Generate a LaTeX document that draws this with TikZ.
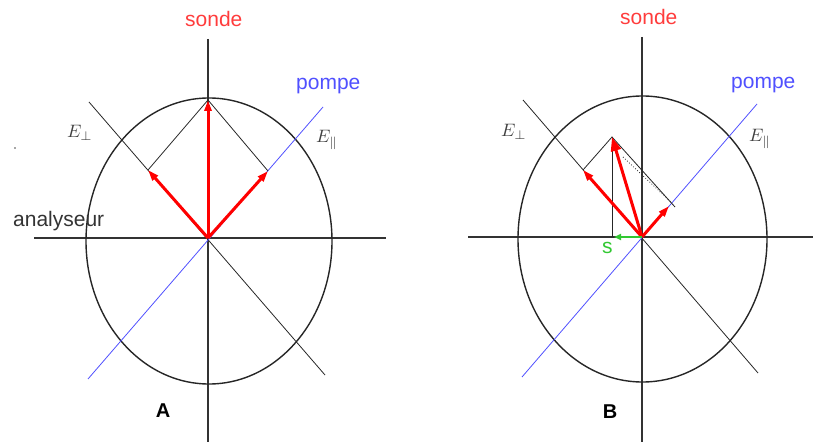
\documentclass[tikz,border=0pt]{standalone}
\usepackage{graphicx}
\usepackage{fontspec}
\setmainfont{Liberation Sans}
\usetikzlibrary{arrows.meta}
\definecolor{sondered}{RGB}{255,60,60}
\definecolor{pompeblue}{RGB}{80,80,255}
\definecolor{sgreen}{RGB}{50,200,50}
\newcommand{\bigE}[1]{\scalebox{1.8}{$E_#1$}}

\begin{document}
\begin{tikzpicture}[x=1pt,y=-1pt,
  axis/.style={line width=1.3pt,black!80},
  rim/.style={line width=1.4pt,black!85},
  diag/.style={line width=0.8pt,black!85},
  pump/.style={line width=0.8pt,pompeblue},
  vec/.style={-{Triangle[length=11pt,width=7pt]},line width=3pt,red},
  svec/.style={-{Triangle[length=7pt,width=6pt]},line width=2.6pt,sgreen},
  lab/.style={inner sep=0,anchor=base west,font=\fontsize{21}{24}\selectfont},
  elab/.style={inner sep=0,anchor=base west,font=\normalsize,text=black!75},
  big/.style={inner sep=0,anchor=base,font=\fontsize{20}{24}\selectfont\bfseries}
]
\useasboundingbox (0,0) rectangle (813,443);
\fill[black!70] (15,148) circle (0.8pt);

\begin{scope}[shift={(208,238)}]
\coordinate (OA) at (0,0);
\coordinate (TA) at (0,-138);
\coordinate (LA) at (-60,-68);
\coordinate (RA) at (60,-67);
\draw[axis] (0,-199) -- (0,204);
\draw[axis] (-174,0) -- (178,0);
\draw[rim] (1,3) ellipse [x radius=123pt,y radius=143pt];
\draw[diag] (-119,-136) -- (117,137);
\draw[pump] (-120,141) -- (115,-131);
\draw[diag] (LA) -- (TA) -- (RA);
\draw[vec] (OA) -- (TA);
\draw[vec] (OA) -- (LA);
\draw[vec] (OA) -- (RA);
\node[lab,text=sondered] (sondeA) at (-23,-211) {sonde};
\node[lab,text=pompeblue] (pompeA) at (88,-148) {pompe};
\node[lab,text=black!80] (anaA) at (-195,-11) {analyseur};
\node[elab] (perpA) at (-141,-100) {\bigE{\perp}};
\node[elab] (parA) at (108,-95) {\bigE{\parallel}};
\node[big] (nameA) at (-45,179) {A};
\end{scope}

\begin{scope}[shift={(642,237)}]
\coordinate (OB) at (0,0);
\coordinate (PB) at (-30,-100);
\coordinate (QB) at (-59,-67);
\coordinate (SB) at (27,-31);
\coordinate (XB) at (-30,0);
\coordinate (EB) at (33,-30);
\draw[axis] (0,-200) -- (0,205);
\draw[axis] (-174,0) -- (171,0);
\draw[rim] (0.5,2) ellipse [x radius=124.5pt,y radius=143pt];
\draw[diag] (-119,-137) -- (116,136);
\draw[pump] (-120,140) -- (115,-133);
\draw[diag] (QB) -- (PB) -- (EB);
\draw[diag] (PB) -- (XB);
\draw[diag,dotted] (-19,-80) -- (30,-34);
\draw[vec] (OB) -- (QB);
\draw[vec] (OB) -- (SB);
\draw[vec,-{Triangle[length=14pt,width=10pt]}] (OB) -- (PB);
\draw[svec] (OB) -- (-28,0);
\node[lab,text=sondered] (sondeB) at (-22,-212) {sonde};
\node[lab,text=pompeblue] (pompeB) at (89,-148) {pompe};
\node[elab] (perpB) at (-141,-100) {\bigE{\perp}};
\node[elab] (parB) at (107,-95) {\bigE{\parallel}};
\node[lab,text=sgreen] (sB) at (-40,17) {s};
\node[big] (nameB) at (-32,181) {B};
\end{scope}
\end{tikzpicture}
\end{document}
